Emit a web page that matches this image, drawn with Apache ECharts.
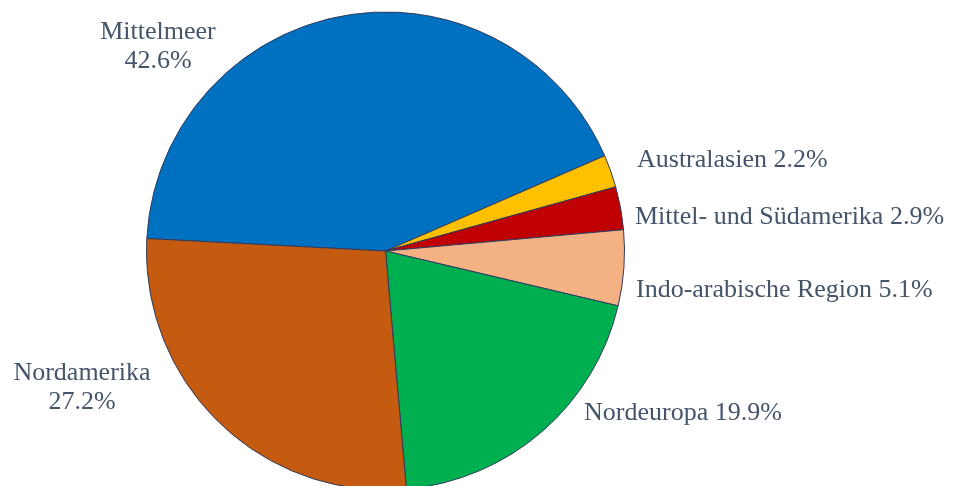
<!DOCTYPE html>
<html>
<head>
<meta charset="utf-8">
<script src="https://cdn.jsdelivr.net/npm/echarts@6/dist/echarts.min.js"></script>
<style>
  html, body { margin: 0; padding: 0; background: #fff; }
  #chart { width: 953px; height: 486px; }
</style>
</head>
<body>
<div id="chart"></div>
<script>
// Regional share (%) — listed clockwise from the 9 o'clock boundary
const regions = ['Mittelmeer', 'Australasien', 'Mittel- und Südamerika', 'Indo-arabische Region', 'Nordeuropa', 'Nordamerika'];
const shares = [42.6, 2.2, 2.9, 5.1, 19.9, 27.2];
const sliceColors = ['#0070C0', '#FFC000', '#C00000', '#F4B183', '#00B050', '#C55A11'];

// Where each region's label sits, and whether the value goes on a second line
const labelPlacement = [
  { x: 158, y: 47, align: 'center', twoLine: true },
  { x: 637, y: 160, align: 'left', twoLine: false },
  { x: 635, y: 217, align: 'left', twoLine: false },
  { x: 636, y: 290, align: 'left', twoLine: false },
  { x: 584, y: 413, align: 'left', twoLine: false },
  { x: 82, y: 388, align: 'center', twoLine: true }
];

const chart = echarts.init(document.getElementById('chart'), null, { renderer: 'canvas' });

chart.setOption({
  animation: false,
  backgroundColor: '#ffffff',
  series: [{
    type: 'pie',
    center: [385.5, 251],
    radius: 239,
    startAngle: 177,
    clockwise: true,
    avoidLabelOverlap: false,
    data: regions.map((name, i) => ({
      name: name,
      value: shares[i],
      itemStyle: { color: sliceColors[i] }
    })),
    itemStyle: { borderColor: '#2F3B5C', borderWidth: 1 },
    label: {
      show: true,
      position: 'outside',
      color: '#44546A',
      fontFamily: '"Liberation Serif", "Times New Roman", serif',
      fontSize: 26,
      lineHeight: 29,
      formatter: p => {
        const v = p.value.toFixed(1) + '%';
        return labelPlacement[p.dataIndex].twoLine ? p.name + '\n' + v : p.name + ' ' + v;
      }
    },
    labelLine: { show: false },
    labelLayout: p => {
      const lp = labelPlacement[p.dataIndex];
      return { x: lp.x, y: lp.y, align: lp.align, verticalAlign: 'middle' };
    },
    emphasis: { disabled: true }
  }]
});
</script>
</body>
</html>
